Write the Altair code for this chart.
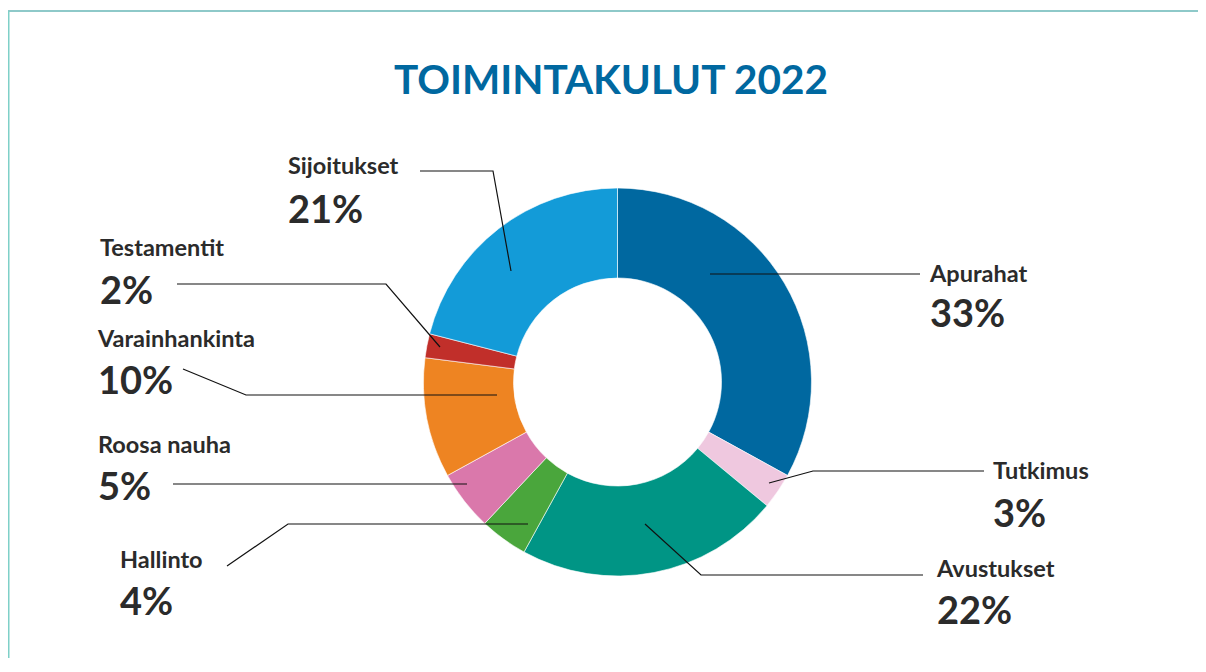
import altair as alt
import pandas as pd

W, H = 1190, 650

categories = ["Apurahat", "Tutkimus", "Avustukset", "Hallinto", "Roosa nauha",
              "Varainhankinta", "Testamentit", "Sijoitukset"]
shares = [33, 3, 22, 4, 5, 10, 2, 21]
colors = ["#0068a0", "#efc8df", "#009585", "#4aa63c", "#da78ab",
          "#ee8422", "#c12f2a", "#139bd8"]

# label layout (chart pixel coords: left x, baseline y of name; pct below)
label_x = [922, 985, 929, 112, 90, 90, 92, 280]
name_y = [274, 471, 569, 560, 445, 339, 248, 166]
pct_y = [319, 519, 616, 607, 492, 386, 296, 215]

# leader line paths (chart pixel coords)
leaders = [
    [(702, 266), (912, 266)],
    [(761, 475), (805, 463), (976, 463)],
    [(637, 516), (693, 567), (915, 567)],
    [(520, 516), (280, 516), (219, 558)],
    [(459, 476), (165, 476)],
    [(489, 387), (238, 387), (175, 361)],
    [(432, 339), (378, 276), (169, 276)],
    [(503, 263), (485, 163), (412, 163)],
]

CX, CY, R_OUT, R_IN = 609.5, 374, 194, 104

df = pd.DataFrame({"cat": categories, "share": shares, "idx": range(len(categories))})

arc = alt.Chart(df).mark_arc(outerRadius=R_OUT, innerRadius=R_IN, stroke="white",
                             strokeWidth=0.6).encode(
    theta=alt.Theta("share:Q", stack=True),
    order=alt.Order("idx:Q"),
    color=alt.Color("cat:N", scale=alt.Scale(domain=categories, range=colors), legend=None),
    x=alt.value(CX), y=alt.value(CY),
)

xs = alt.Scale(domain=[0, W], nice=False, zero=False)
ys = alt.Scale(domain=[0, H], nice=False, zero=False, reverse=True)

rows = []
for c, pts in zip(categories, leaders):
    for i, (px, py) in enumerate(pts):
        rows.append({"cat": c, "o": i, "px": px, "py": py})
ldf = pd.DataFrame(rows)

lines = alt.Chart(ldf).mark_line(color="#111111", strokeWidth=1.2).encode(
    x=alt.X("px:Q", scale=xs, axis=None),
    y=alt.Y("py:Q", scale=ys, axis=None),
    detail="cat:N",
    order="o:Q",
)

tdf = pd.DataFrame({
    "cat": categories,
    "pct": [f"{s}%" for s in shares],
    "lx": label_x, "ny": name_y, "py": pct_y,
})

names = alt.Chart(tdf).mark_text(align="left", baseline="alphabetic", font="Lato",
                                 fontWeight="bold", fontSize=23.5, color="#2b2b2b").encode(
    x=alt.X("lx:Q", scale=xs, axis=None),
    y=alt.Y("ny:Q", scale=ys, axis=None),
    text="cat:N",
)
pcts = alt.Chart(tdf).mark_text(align="left", baseline="alphabetic", font="Lato",
                                fontWeight="bold", fontSize=38, color="#2b2b2b").encode(
    x=alt.X("lx:Q", scale=xs, axis=None),
    y=alt.Y("py:Q", scale=ys, axis=None),
    text="pct:N",
)

title = alt.Chart(pd.DataFrame({"t": ["TOIMINTAKULUT 2022"]})).mark_text(
    align="center", baseline="alphabetic", font="Lato", fontWeight="bold",
    fontSize=40.5, color="#0068a0").encode(
    x=alt.value(603), y=alt.value(86), text="t:N")

top_border = alt.Chart(pd.DataFrame({"a": [0]})).mark_rule(
    color="#1e9494", strokeWidth=1.2).encode(
    x=alt.value(0), x2=alt.value(W), y=alt.value(3))
left_border = alt.Chart(pd.DataFrame({"a": [0]})).mark_rule(
    color="#7fd0c8", strokeWidth=2).encode(
    x=alt.value(0.5), y=alt.value(3), y2=alt.value(H))

chart = alt.layer(top_border, left_border, arc, lines, names, pcts, title).properties(
    width=W, height=H, autosize=alt.AutoSizeParams(type="none"), padding=0,
    background="white",
).configure_view(stroke=None)

chart.save("out.html", embed_options={"renderer": "svg", "actions": False})
